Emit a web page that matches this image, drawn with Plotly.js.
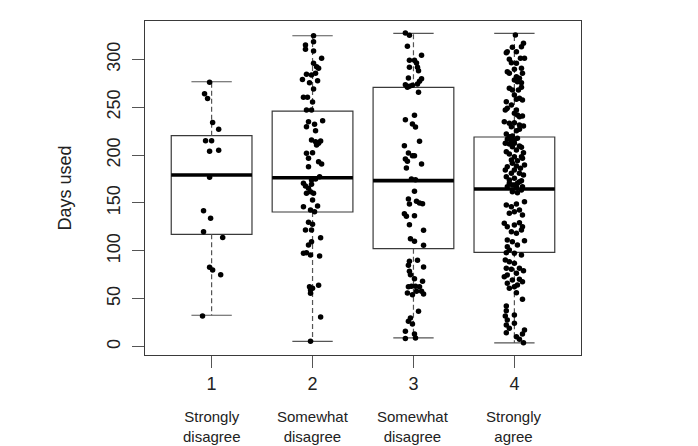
<!DOCTYPE html>
<html>
<head>
<meta charset="utf-8">
<script src="https://cdn.plot.ly/plotly-3.0.1.min.js"></script>
<style>
  html, body { margin: 0; padding: 0; background: #ffffff; }
  #chart { width: 698px; height: 446px; }
</style>
</head>
<body>
<div id="chart"></div>
<script>
// ---- data ----
const categories = [1, 2, 3, 4];
const tickLabels = ['1', '2', '3', '4'];
const categoryLabels = ['Strongly<br>disagree', 'Somewhat<br>disagree', 'Somewhat<br>disagree', 'Strongly<br>agree'];
const yTicks = [0, 50, 100, 150, 200, 250, 300];

// box statistics (Days used)
const lowerWhisker = [32.8, 5.6, 9.1, 3.9];
const q1 = [117.3, 140.6, 102.3, 98.5];
const median = [179.2, 176.4, 173.3, 164.6];
const q3 = [220.3, 246.0, 270.8, 218.9];
const upperWhisker = [276.6, 324.6, 327.1, 327.1];

// jittered observations: offset from category (category units) and value
const jitter1 = [-0.02,-0.07,-0.04,0.01,0.07,-0.06,0.0,-0.02,0.07,-0.02,-0.08,-0.01,-0.08,0.11,-0.02,0.01,0.09,-0.09];
const days1 = [276,264,259,234,227,215,215,204,205,177,142,134,120,114,83,80,75,32];

const jitter2 = [0.01,0.01,-0.07,-0.07,0.01,0.09,0.01,0.04,0.06,-0.06,
  -0.01,0.03,-0.10,-0.03,0.05,0.01,-0.09,-0.05,0,-0.06,
  -0.01,-0.04,0.02,0.10,-0.06,0.03,-0.01,0.03,0.06,0.08,
  0.04,-0.06,0,-0.04,0.06,0.09,-0.04,0.07,0.03,-0.01,
  -0.09,-0.07,-0.04,-0.01,-0.06,-0.02,0.01,0,-0.09,-0.02,
  0.02,0.05,-0.04,0,-0.07,-0.01,0.08,-0.01,-0.04,-0.09,
  -0.06,-0.02,0.07,-0.03,-0.02,-0.02,0,0.06,0.08,-0.02];
const days2 = [324.6,318.4,315,310.4,308.7,301,295.8,292.3,290.6,284.3,
  283.6,285.4,279,275.6,277.7,269,260.3,260.3,255.4,247,
  247,234.9,232.1,235.9,229.6,225.5,215.8,214,212.3,214.7,
  210.5,201.9,202.5,196.7,193.1,190.7,187.9,177.5,175,174,
  170.6,167.7,165.4,169.5,160.1,161.8,160.1,153.1,146.1,142.7,
  140.9,146.9,129.8,127.8,121.8,121.8,113.8,109.6,106.2,97.5,
  98.1,95.7,94.7,62.6,59.2,55.7,61,64.1,31,5.6];

const jitter3 = [-0.08,-0.04,-0.06,0.08,-0.04,0.01,0.03,-0.04,0.04,0.05,
  -0.05,0.08,0.06,-0.08,-0.04,-0.06,-0.01,0.04,0.05,0.01,
  -0.08,-0.01,0.02,0.06,-0.09,-0.05,-0.01,0.01,-0.08,-0.06,
  0.08,-0.07,-0.02,0.02,0.01,-0.05,0.03,0.06,0.09,-0.04,
  -0.09,-0.07,0.01,-0.04,0.10,-0.03,0.01,0.10,-0.04,0.04,
  -0.05,0.10,-0.04,-0.03,0.01,-0.05,-0.02,0.02,0.06,0.09,
  0.08,0.10,-0.01,0.03,-0.06,0.05,-0.03,-0.05,-0.01,-0.08,
  0.01,-0.08,0.02];
const days3 = [327.5,325,313.6,304.2,299,299,296.1,291.6,291.6,288.1,
  280.5,279.7,277,273.5,271.8,270.8,272.9,274.2,265.6,241.5,
  237,232.5,229.3,214.4,209.8,202.2,199.4,199.4,195.9,193.5,
  190.7,186.5,175,174.3,162.2,154.2,151.8,150,149.3,149,
  138.8,136.1,136.7,127.3,121.5,112.7,110,105.8,89.1,90.2,
  85,83.2,78.7,75.2,71,62.6,63,63,62.6,68.3,
  57.8,55,54.3,57.8,56,37,30,26.5,23.7,16,
  13.3,8.4,9.1];

const jitter4 = [0.01,0.09,0.07,-0.02,-0.07,-0.08,0.02,0.10,0.06,-0.05,
  -0.03,0.02,0.07,0,-0.07,-0.05,0.08,0.02,0,0.05,
  0.03,0.07,-0.05,-0.02,0.04,0.07,0,0.05,0.08,0.02,
  -0.08,-0.03,-0.07,-0.09,0.02,0,0.03,0.08,0.05,-0.10,
  -0.05,0,-0.03,0.05,0.09,0.05,0.02,
  -0.08,-0.05,-0.02,-0.07,-0.03,0,0.03,-0.09,-0.05,0,0.05,-0.02,
  0.07,0.09,0.02,-0.08,-0.05,0,0.07,-0.03,0.03,0.08,
  -0.02,-0.07,0.02,0.06,0.10,-0.09,0,-0.03,0.05,0.09,
  -0.08,-0.05,0,0.03,0.07,-0.02,-0.07,0.02,0.08,
  -0.05,0,0.05,-0.02,0.03,0.07,
  -0.08,-0.03,0.02,0.10,0.05,0,-0.05,0.08,
  -0.10,-0.07,0,0.05,0.08,-0.03,0.02,0.07,0.10,
  -0.07,-0.02,-0.07,0.03,-0.05,0,0.07,-0.08,
  -0.09,-0.05,0,0.05,0.09,-0.08,-0.03,-0.07,0.02,-0.10,
  -0.02,0.05,0.08,-0.07,0,0.03,-0.05,0.02,0.08,
  -0.08,-0.08,-0.09,-0.07,-0.08,-0.05,-0.08,0,0,0.10,0.08,0.02,0.05,0.09];
const days4 = [325.4,316.7,313.2,312.5,307.9,306.9,308,301,301,300,
  296.5,295.8,290.6,289.6,287.1,285.4,285.4,281.8,278.4,280.2,
  276.6,275.6,269.7,268,268,270.8,262.7,259.3,257.5,258.2,
  255.7,252.3,248.8,247.1,247.1,243.6,241.9,240.8,240.1,234.9,
  233.2,233.8,229.6,231.4,230.4,227,225.5,
  222,219.2,219.9,216.5,215,215.7,217.5,212.3,211.6,212.3,209.5,208.8,
  208.1,202.5,205.3,203.5,201.1,198.3,198.3,194.9,194.2,196.7,
  191.4,187.9,188.6,186.2,189.6,184.4,184.4,181,181,179.2,
  177.5,174,175.8,170.6,173.3,168.7,167,167,167,
  170.6,168.8,172.2,161.8,160.8,163.6,
  147.9,146.1,149,151.4,142.7,140.9,139.2,137.5,
  128.8,125.3,127,129.4,125.3,120,118.4,121.8,110.6,
  111.3,109.6,104.4,106.2,100.9,97.5,95.7,98.1,
  90.5,88.7,87.1,81.8,79.3,81.8,80.8,74.8,76.6,73.1,
  69.6,70.4,67.8,66.2,62.6,64.4,61,56.4,49.5,
  42.5,37.6,32,27.9,22.7,19.2,14.6,33.1,24.4,17.4,13.3,10.4,7.7,4.2];

const jitters = [jitter1, jitter2, jitter3, jitter4];
const days = [days1, days2, days3, days4];

// ---- build traces ----
const FONT = '"Liberation Sans", Arial, Helvetica, sans-serif';
const BOX_W = 0.8;     // box width in category units
const STAPLE_W = 0.4;  // whisker end width

const traces = [];

traces.push({
  type: 'box',
  x: categories,
  q1: q1,
  median: median,
  q3: q3,
  lowerfence: q1,
  upperfence: q3,
  width: BOX_W,
  fillcolor: '#ffffff',
  line: { color: '#3a3a3a', width: 1.2 },
  boxpoints: false,
  hoverinfo: 'skip',
  showlegend: false
});

// dashed whiskers
const wx = [], wy = [];
categories.forEach((c, i) => {
  wx.push(c, c, null, c, c, null);
  wy.push(q3[i], upperWhisker[i], null, q1[i], lowerWhisker[i], null);
});
traces.push({
  type: 'scatter', mode: 'lines', x: wx, y: wy,
  line: { color: '#555555', width: 1.2, dash: '5px,3px' },
  hoverinfo: 'skip', showlegend: false
});

// staples
const sx = [], sy = [];
categories.forEach((c, i) => {
  sx.push(c - STAPLE_W / 2, c + STAPLE_W / 2, null, c - STAPLE_W / 2, c + STAPLE_W / 2, null);
  sy.push(upperWhisker[i], upperWhisker[i], null, lowerWhisker[i], lowerWhisker[i], null);
});
traces.push({
  type: 'scatter', mode: 'lines', x: sx, y: sy,
  line: { color: '#555555', width: 1.2 },
  hoverinfo: 'skip', showlegend: false
});

// thick medians
const mx = [], my = [];
categories.forEach((c, i) => {
  mx.push(c - BOX_W / 2, c + BOX_W / 2, null);
  my.push(median[i], median[i], null);
});
traces.push({
  type: 'scatter', mode: 'lines', x: mx, y: my,
  line: { color: '#000000', width: 3.6 },
  hoverinfo: 'skip', showlegend: false
});

// jittered points
categories.forEach((c, i) => {
  traces.push({
    type: 'scatter', mode: 'markers',
    x: jitters[i].map(j => c + j),
    y: days[i],
    marker: { color: '#000000', size: 5.5 },
    name: tickLabels[i],
    showlegend: false
  });
});

const annotations = categories.map((c, i) => ({
  x: c, xref: 'x',
  y: -0.213, yref: 'paper',
  text: categoryLabels[i],
  showarrow: false,
  xanchor: 'center', yanchor: 'middle',
  font: { family: FONT, size: 15, color: '#222222' }
}));

const layout = {
  width: 698, height: 446,
  margin: { l: 145, r: 117, t: 21, b: 91, pad: 0 },
  paper_bgcolor: '#ffffff',
  plot_bgcolor: '#ffffff',
  showlegend: false,
  font: { family: FONT, color: '#222222', size: 18 },
  xaxis: {
    range: [0.34, 4.66],
    tickmode: 'array',
    tickvals: categories,
    ticktext: tickLabels,
    ticks: 'outside', ticklen: 12, tickwidth: 1, tickcolor: '#555555',
    showline: true, mirror: true, linecolor: '#3a3a3a', linewidth: 1.2,
    showgrid: false, zeroline: false,
    tickfont: { family: FONT, size: 18, color: '#222222' }
  },
  yaxis: {
    range: [-8.7, 340],
    tickmode: 'array',
    tickvals: yTicks,
    ticktext: yTicks.map(String),
    tickangle: -90,
    ticklabelstandoff: 5,
    ticks: 'outside', ticklen: 12, tickwidth: 1, tickcolor: '#555555',
    showline: true, mirror: true, linecolor: '#3a3a3a', linewidth: 1.2,
    showgrid: false, zeroline: false,
    tickfont: { family: FONT, size: 18, color: '#222222' },
    title: { text: 'Days used', font: { family: FONT, size: 18, color: '#222222' }, standoff: 27 }
  },
  annotations: annotations
};

Plotly.newPlot('chart', traces, layout, { staticPlot: true, displayModeBar: false });
</script>
</body>
</html>
